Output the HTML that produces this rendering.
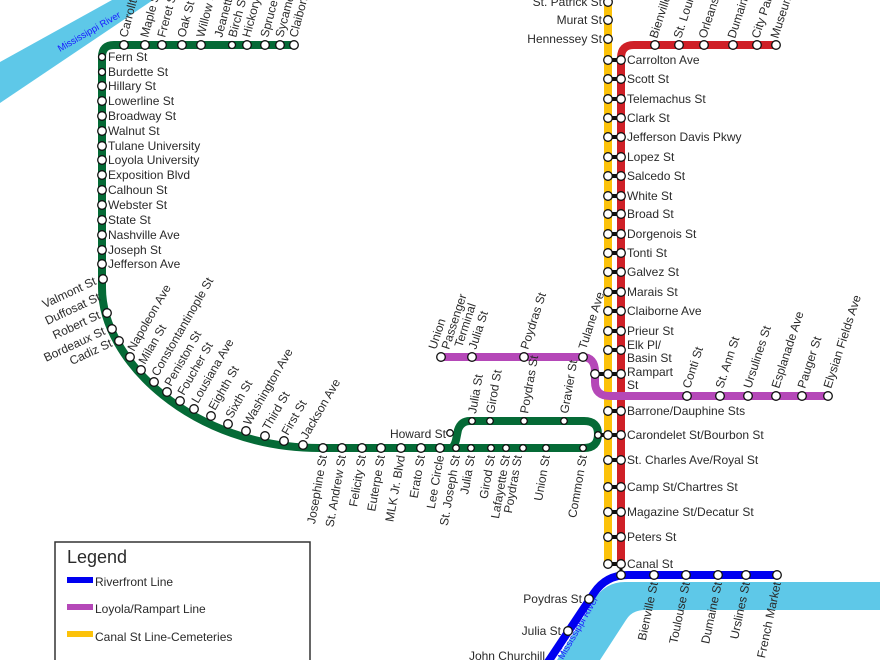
<!DOCTYPE html>
<html><head><meta charset="utf-8"><style>
html,body{margin:0;padding:0;background:#fff}
svg{display:block}
text{font-family:"Liberation Sans",sans-serif;fill:#2a2a2a;font-size:12px}
.s{fill:#fff;stroke:#111;stroke-width:1.3}
</style></head><body>
<svg width="880" height="660" viewBox="0 0 880 660" xmlns="http://www.w3.org/2000/svg">
<polygon points="0,62 112,0 153,0 0,103" fill="#5ec8e8"/>
<text x="60" y="52" transform="rotate(-30 60 52)" style="fill:#1a1aff;font-size:9.5px">Mississippi River</text>
<path d="M880,582 L625,582 Q605,582 594,600 L557,660 L600,660 L626,620 Q632,610 645,610 L880,610 Z" fill="#5ec8e8"/>
<text x="563" y="660" transform="rotate(-60 563 660)" style="fill:#1a1aff;font-size:9.5px">Mississippi River</text>

<line x1="608" y1="0" x2="608" y2="566" stroke="#fcc20a" stroke-width="8"/>
<path d="M621,566 L621,58 Q621,45 634,45 L777,45" fill="none" stroke="#cf2027" stroke-width="8"/>
<path d="M777,575 L628,575 Q606,575 594,593 L546,665" fill="none" stroke="#0000f0" stroke-width="8"/>
<line x1="621" y1="564" x2="621" y2="575" stroke="#111" stroke-width="3"/>
<path d="M440,357 L582,357 Q595,357 595,372 L595,382 Q595,396 610,396 L828,396" fill="none" stroke="#b548b8" stroke-width="8"/>
<path d="M296,45 L114,45 Q102,45 102,57 L102,288 C102,360 192,448 320,448 L450,448 Q454,448 456,440 L458,430 Q461,421 470,421 L584,421 Q598,421 598,434 Q598,448 584,448 L450,448" fill="none" stroke="#056a36" stroke-width="8"/>
<line x1="598" y1="435" x2="608" y2="435" stroke="#111" stroke-width="4"/>

<g>
<g stroke="#111" stroke-width="4">
<line x1="608" y1="60" x2="621" y2="60"/><line x1="608" y1="79" x2="621" y2="79"/><line x1="608" y1="99" x2="621" y2="99"/><line x1="608" y1="118" x2="621" y2="118"/><line x1="608" y1="137" x2="621" y2="137"/><line x1="608" y1="157" x2="621" y2="157"/><line x1="608" y1="176" x2="621" y2="176"/><line x1="608" y1="196" x2="621" y2="196"/><line x1="608" y1="214" x2="621" y2="214"/><line x1="608" y1="234" x2="621" y2="234"/><line x1="608" y1="253" x2="621" y2="253"/><line x1="608" y1="272" x2="621" y2="272"/><line x1="608" y1="292" x2="621" y2="292"/><line x1="608" y1="311" x2="621" y2="311"/><line x1="608" y1="331" x2="621" y2="331"/><line x1="608" y1="350" x2="621" y2="350"/><line x1="595" y1="374" x2="621" y2="374"/><line x1="608" y1="411" x2="621" y2="411"/><line x1="608" y1="435" x2="621" y2="435"/><line x1="608" y1="460" x2="621" y2="460"/><line x1="608" y1="487" x2="621" y2="487"/><line x1="608" y1="512" x2="621" y2="512"/><line x1="608" y1="537" x2="621" y2="537"/><line x1="608" y1="564" x2="621" y2="564"/>
</g>
<g class="s">
<circle cx="608" cy="2" r="4.3"/><circle cx="608" cy="20" r="4.3"/><circle cx="608" cy="39" r="4.3"/>
<circle cx="608" cy="60" r="4.3"/><circle cx="621" cy="60" r="4.3"/>
<circle cx="608" cy="79" r="4.3"/><circle cx="621" cy="79" r="4.3"/>
<circle cx="608" cy="99" r="4.3"/><circle cx="621" cy="99" r="4.3"/>
<circle cx="608" cy="118" r="4.3"/><circle cx="621" cy="118" r="4.3"/>
<circle cx="608" cy="137" r="4.3"/><circle cx="621" cy="137" r="4.3"/>
<circle cx="608" cy="157" r="4.3"/><circle cx="621" cy="157" r="4.3"/>
<circle cx="608" cy="176" r="4.3"/><circle cx="621" cy="176" r="4.3"/>
<circle cx="608" cy="196" r="4.3"/><circle cx="621" cy="196" r="4.3"/>
<circle cx="608" cy="214" r="4.3"/><circle cx="621" cy="214" r="4.3"/>
<circle cx="608" cy="234" r="4.3"/><circle cx="621" cy="234" r="4.3"/>
<circle cx="608" cy="253" r="4.3"/><circle cx="621" cy="253" r="4.3"/>
<circle cx="608" cy="272" r="4.3"/><circle cx="621" cy="272" r="4.3"/>
<circle cx="608" cy="292" r="4.3"/><circle cx="621" cy="292" r="4.3"/>
<circle cx="608" cy="311" r="4.3"/><circle cx="621" cy="311" r="4.3"/>
<circle cx="608" cy="331" r="4.3"/><circle cx="621" cy="331" r="4.3"/>
<circle cx="608" cy="350" r="4.3"/><circle cx="621" cy="350" r="4.3"/>
<circle cx="595" cy="374" r="4.3"/><circle cx="608" cy="374" r="4.3"/><circle cx="621" cy="374" r="4.3"/>
<circle cx="608" cy="411" r="4.3"/><circle cx="621" cy="411" r="4.3"/>
<circle cx="608" cy="435" r="4.3"/><circle cx="621" cy="435" r="4.3"/>
<circle cx="608" cy="460" r="4.3"/><circle cx="621" cy="460" r="4.3"/>
<circle cx="608" cy="487" r="4.3"/><circle cx="621" cy="487" r="4.3"/>
<circle cx="608" cy="512" r="4.3"/><circle cx="621" cy="512" r="4.3"/>
<circle cx="608" cy="537" r="4.3"/><circle cx="621" cy="537" r="4.3"/>
<circle cx="608" cy="564" r="4.3"/><circle cx="621" cy="564" r="4.3"/>
<circle cx="655" cy="45" r="4.3"/><circle cx="679" cy="45" r="4.3"/><circle cx="704" cy="45" r="4.3"/><circle cx="733" cy="45" r="4.3"/><circle cx="757" cy="45" r="4.3"/><circle cx="776" cy="45" r="4.3"/>
<circle cx="441" cy="357" r="4.3"/><circle cx="472" cy="357" r="4.3"/><circle cx="524" cy="357" r="4.3"/><circle cx="583" cy="357" r="4.3"/>
<circle cx="687" cy="396" r="4.3"/><circle cx="720" cy="396" r="4.3"/><circle cx="748" cy="396" r="4.3"/><circle cx="776" cy="396" r="4.3"/><circle cx="802" cy="396" r="4.3"/><circle cx="828" cy="396" r="4.3"/>
<circle cx="621" cy="575" r="4.3"/><circle cx="654" cy="575" r="4.3"/><circle cx="686" cy="575" r="4.3"/><circle cx="718" cy="575" r="4.3"/><circle cx="746" cy="575" r="4.3"/><circle cx="777" cy="575" r="4.3"/>
<circle cx="589" cy="599" r="4.3"/><circle cx="568" cy="631" r="4.3"/>
<circle cx="124" cy="45" r="4.3"/><circle cx="145" cy="45" r="4.3"/><circle cx="162" cy="45" r="4.3"/><circle cx="182" cy="45" r="4.3"/><circle cx="201" cy="45" r="4.3"/><circle cx="232" cy="45" r="3.5"/><circle cx="247" cy="45" r="4.3"/><circle cx="265" cy="45" r="4.3"/><circle cx="280" cy="45" r="4.3"/><circle cx="294" cy="45" r="4.3"/>
<circle cx="102" cy="57" r="3.5"/><circle cx="102" cy="72" r="3.5"/><circle cx="102" cy="86" r="4.3"/><circle cx="102" cy="101" r="4.3"/><circle cx="102" cy="116" r="4.3"/><circle cx="102" cy="131" r="4.3"/><circle cx="102" cy="146" r="4.3"/><circle cx="102" cy="160" r="4.3"/><circle cx="102" cy="175" r="4.3"/><circle cx="102" cy="190" r="4.3"/><circle cx="102" cy="205" r="4.3"/><circle cx="102" cy="220" r="4.3"/><circle cx="102" cy="235" r="4.3"/><circle cx="102" cy="250" r="4.3"/><circle cx="102" cy="264" r="4.3"/><circle cx="103" cy="279" r="4.3"/>
<circle cx="107" cy="313" r="4.3"/><circle cx="112" cy="329" r="4.3"/><circle cx="119" cy="341" r="4.3"/><circle cx="130" cy="357" r="4.3"/><circle cx="141" cy="370" r="4.3"/><circle cx="154" cy="382" r="4.3"/><circle cx="167" cy="392" r="4.3"/><circle cx="180" cy="401" r="4.3"/><circle cx="194" cy="409" r="4.3"/><circle cx="211" cy="416" r="4.3"/><circle cx="228" cy="424" r="4.3"/><circle cx="246" cy="431" r="4.3"/><circle cx="265" cy="436" r="4.3"/><circle cx="284" cy="441" r="4.3"/><circle cx="303" cy="445" r="4.3"/>
<circle cx="323" cy="448" r="4.3"/><circle cx="342" cy="448" r="4.3"/><circle cx="362" cy="448" r="4.3"/><circle cx="381" cy="448" r="4.3"/><circle cx="401" cy="448" r="4.3"/><circle cx="421" cy="448" r="4.3"/><circle cx="440" cy="448" r="4.3"/>
<circle cx="456" cy="448" r="3.3"/><circle cx="471" cy="448" r="3.3"/><circle cx="491" cy="448" r="3.3"/><circle cx="506" cy="448" r="3.3"/><circle cx="523" cy="448" r="3.3"/><circle cx="546" cy="448" r="3.3"/><circle cx="583" cy="448" r="3.3"/>
<circle cx="472" cy="421" r="3.3"/><circle cx="490" cy="421" r="3.3"/><circle cx="524" cy="421" r="3.3"/><circle cx="564" cy="421" r="3.3"/><circle cx="450" cy="433" r="3.3"/><circle cx="598" cy="435" r="3.3"/>
</g>
</g>

<g>
<text x="602" y="6" text-anchor="end">St. Patrick St</text>
<text x="602" y="24" text-anchor="end">Murat St</text>
<text x="602" y="43" text-anchor="end">Hennessey St</text>
<text x="627" y="64">Carrolton Ave</text><text x="627" y="83">Scott St</text><text x="627" y="103">Telemachus St</text><text x="627" y="122">Clark St</text><text x="627" y="141">Jefferson Davis Pkwy</text><text x="627" y="161">Lopez St</text><text x="627" y="180">Salcedo St</text><text x="627" y="200">White St</text><text x="627" y="218">Broad St</text><text x="627" y="238">Dorgenois St</text><text x="627" y="257">Tonti St</text><text x="627" y="276">Galvez St</text><text x="627" y="296">Marais St</text><text x="627" y="315">Claiborne Ave</text><text x="627" y="335">Prieur St</text><text x="627" y="349">Elk Pl/</text><text x="627" y="362">Basin St</text><text x="627" y="376">Rampart</text><text x="627" y="389">St</text><text x="627" y="415">Barrone/Dauphine Sts</text><text x="627" y="439">Carondelet St/Bourbon St</text><text x="627" y="464">St. Charles Ave/Royal St</text><text x="627" y="491">Camp St/Chartres St</text><text x="627" y="516">Magazine St/Decatur St</text><text x="627" y="541">Peters St</text><text x="627" y="568">Canal St</text>
</g>
<g>
<text transform="translate(657,39) rotate(-72)">Bienville</text>
<text transform="translate(681,39) rotate(-72)">St. Louis</text>
<text transform="translate(706,39) rotate(-72)">Orleans</text>
<text transform="translate(735,39) rotate(-72)">Dumaine</text>
<text transform="translate(759,39) rotate(-72)">City Park</text>
<text transform="translate(778,39) rotate(-72)">Museum</text>
</g>
<g>
<text transform="translate(436,350) rotate(-72)">Union</text>
<text transform="translate(449,350) rotate(-72)">Passenger</text>
<text transform="translate(462,348) rotate(-72)">Terminal</text>
<text transform="translate(476,350) rotate(-72)">Julia St</text>
<text transform="translate(528,350) rotate(-72)">Poydras St</text>
<text transform="translate(586,350) rotate(-72)">Tulane Ave</text>
<text transform="translate(690,389) rotate(-72)">Conti St</text>
<text transform="translate(723,389) rotate(-72)">St. Ann St</text>
<text transform="translate(751,389) rotate(-72)">Ursulines St</text>
<text transform="translate(779,389) rotate(-72)">Esplanade Ave</text>
<text transform="translate(805,389) rotate(-72)">Pauger St</text>
<text transform="translate(831,389) rotate(-72)">Elysian Fields Ave</text>
</g>
<g>
<text transform="translate(658,583) rotate(-78)" text-anchor="end">Bienville St</text>
<text transform="translate(690,583) rotate(-78)" text-anchor="end">Toulouse St</text>
<text transform="translate(722,583) rotate(-78)" text-anchor="end">Dumaine St</text>
<text transform="translate(750,583) rotate(-78)" text-anchor="end">Urslines St</text>
<text transform="translate(781,583) rotate(-78)" text-anchor="end">French Market</text>
<text x="582" y="603" text-anchor="end">Poydras St</text>
<text x="561" y="635" text-anchor="end">Julia St</text>
<text x="545" y="660" text-anchor="end">John Churchill</text>
</g>
<g>
<text transform="translate(127,38) rotate(-75)">Carrollton</text>
<text transform="translate(148,38) rotate(-75)">Maple St</text>
<text transform="translate(165,38) rotate(-75)">Freret St</text>
<text transform="translate(185,38) rotate(-75)">Oak St</text>
<text transform="translate(204,38) rotate(-75)">Willow St</text>
<text transform="translate(222,38) rotate(-75)">Jeanette</text>
<text transform="translate(236,38) rotate(-75)">Birch St</text>
<text transform="translate(250,38) rotate(-75)">Hickory</text>
<text transform="translate(268,38) rotate(-75)">Spruce St</text>
<text transform="translate(283,38) rotate(-75)">Sycamore</text>
<text transform="translate(297,38) rotate(-75)">Claiborne</text>
</g>
<g>
<text x="108" y="61">Fern St</text><text x="108" y="76">Burdette St</text><text x="108" y="90">Hillary St</text><text x="108" y="105">Lowerline St</text><text x="108" y="120">Broadway St</text><text x="108" y="135">Walnut St</text><text x="108" y="150">Tulane University</text><text x="108" y="164">Loyola University</text><text x="108" y="179">Exposition Blvd</text><text x="108" y="194">Calhoun St</text><text x="108" y="209">Webster St</text><text x="108" y="224">State St</text><text x="108" y="239">Nashville Ave</text><text x="108" y="254">Joseph St</text><text x="108" y="268">Jefferson Ave</text>
</g>
<g>
<text transform="translate(97,284) rotate(-25)" text-anchor="end">Valmont St</text>
<text transform="translate(101,300) rotate(-25)" text-anchor="end">Duffosat St</text>
<text transform="translate(101,318) rotate(-25)" text-anchor="end">Robert St</text>
<text transform="translate(106,334) rotate(-25)" text-anchor="end">Bordeaux St</text>
<text transform="translate(113,346) rotate(-25)" text-anchor="end">Cadiz St</text>
<text transform="translate(134,352) rotate(-60)">Napoleon Ave</text>
<text transform="translate(145,365) rotate(-60)">Milan St</text>
<text transform="translate(158,377) rotate(-60)">Constontantinople St</text>
<text transform="translate(171,387) rotate(-60)">Peniston St</text>
<text transform="translate(184,396) rotate(-60)">Foucher St</text>
<text transform="translate(198,404) rotate(-60)">Lousiana Ave</text>
<text transform="translate(215,411) rotate(-60)">Eighth St</text>
<text transform="translate(232,419) rotate(-60)">Sixth St</text>
<text transform="translate(250,426) rotate(-60)">Washington Ave</text>
<text transform="translate(269,431) rotate(-60)">Third St</text>
<text transform="translate(288,436) rotate(-60)">First St</text>
<text transform="translate(307,440) rotate(-60)">Jackson Ave</text>
</g>
<g>
<text transform="translate(327,456) rotate(-80)" text-anchor="end">Josephine St</text>
<text transform="translate(346,456) rotate(-80)" text-anchor="end">St. Andrew St</text>
<text transform="translate(366,456) rotate(-80)" text-anchor="end">Felicity St</text>
<text transform="translate(385,456) rotate(-80)" text-anchor="end">Euterpe St</text>
<text transform="translate(405,456) rotate(-80)" text-anchor="end">MLK Jr. Blvd</text>
<text transform="translate(425,456) rotate(-80)" text-anchor="end">Erato St</text>
<text transform="translate(444,456) rotate(-80)" text-anchor="end">Lee Circle</text>
<text transform="translate(460,456) rotate(-80)" text-anchor="end">St. Joseph St</text>
<text transform="translate(475,456) rotate(-80)" text-anchor="end">Julia St</text>
<text transform="translate(495,456) rotate(-80)" text-anchor="end">Girod St</text>
<text transform="translate(510,456) rotate(-80)" text-anchor="end">Lafayette St</text>
<text transform="translate(522,456) rotate(-80)" text-anchor="end">Poydras St</text>
<text transform="translate(550,456) rotate(-80)" text-anchor="end">Union St</text>
<text transform="translate(587,456) rotate(-80)" text-anchor="end">Common St</text>
<text x="446" y="438" text-anchor="end">Howard St</text>
<text transform="translate(476,414) rotate(-80)">Julia St</text>
<text transform="translate(494,414) rotate(-80)">Girod St</text>
<text transform="translate(528,414) rotate(-80)">Poydras St</text>
<text transform="translate(568,414) rotate(-80)">Gravier St</text>
</g>

<rect x="55" y="542" width="255" height="130" fill="#fff" stroke="#333" stroke-width="1.5"/>
<text x="67" y="563" style="font-size:18px">Legend</text>
<rect x="67" y="577" width="26" height="6" fill="#0000f0"/>
<text x="95" y="586" style="font-size:12px">Riverfront Line</text>
<rect x="67" y="604" width="26" height="6" fill="#b548b8"/>
<text x="95" y="613" style="font-size:12px">Loyola/Rampart Line</text>
<rect x="67" y="631" width="26" height="6" fill="#fcc20a"/>
<text x="95" y="641" style="font-size:12px">Canal St Line-Cemeteries</text>
</svg>
</body></html>
